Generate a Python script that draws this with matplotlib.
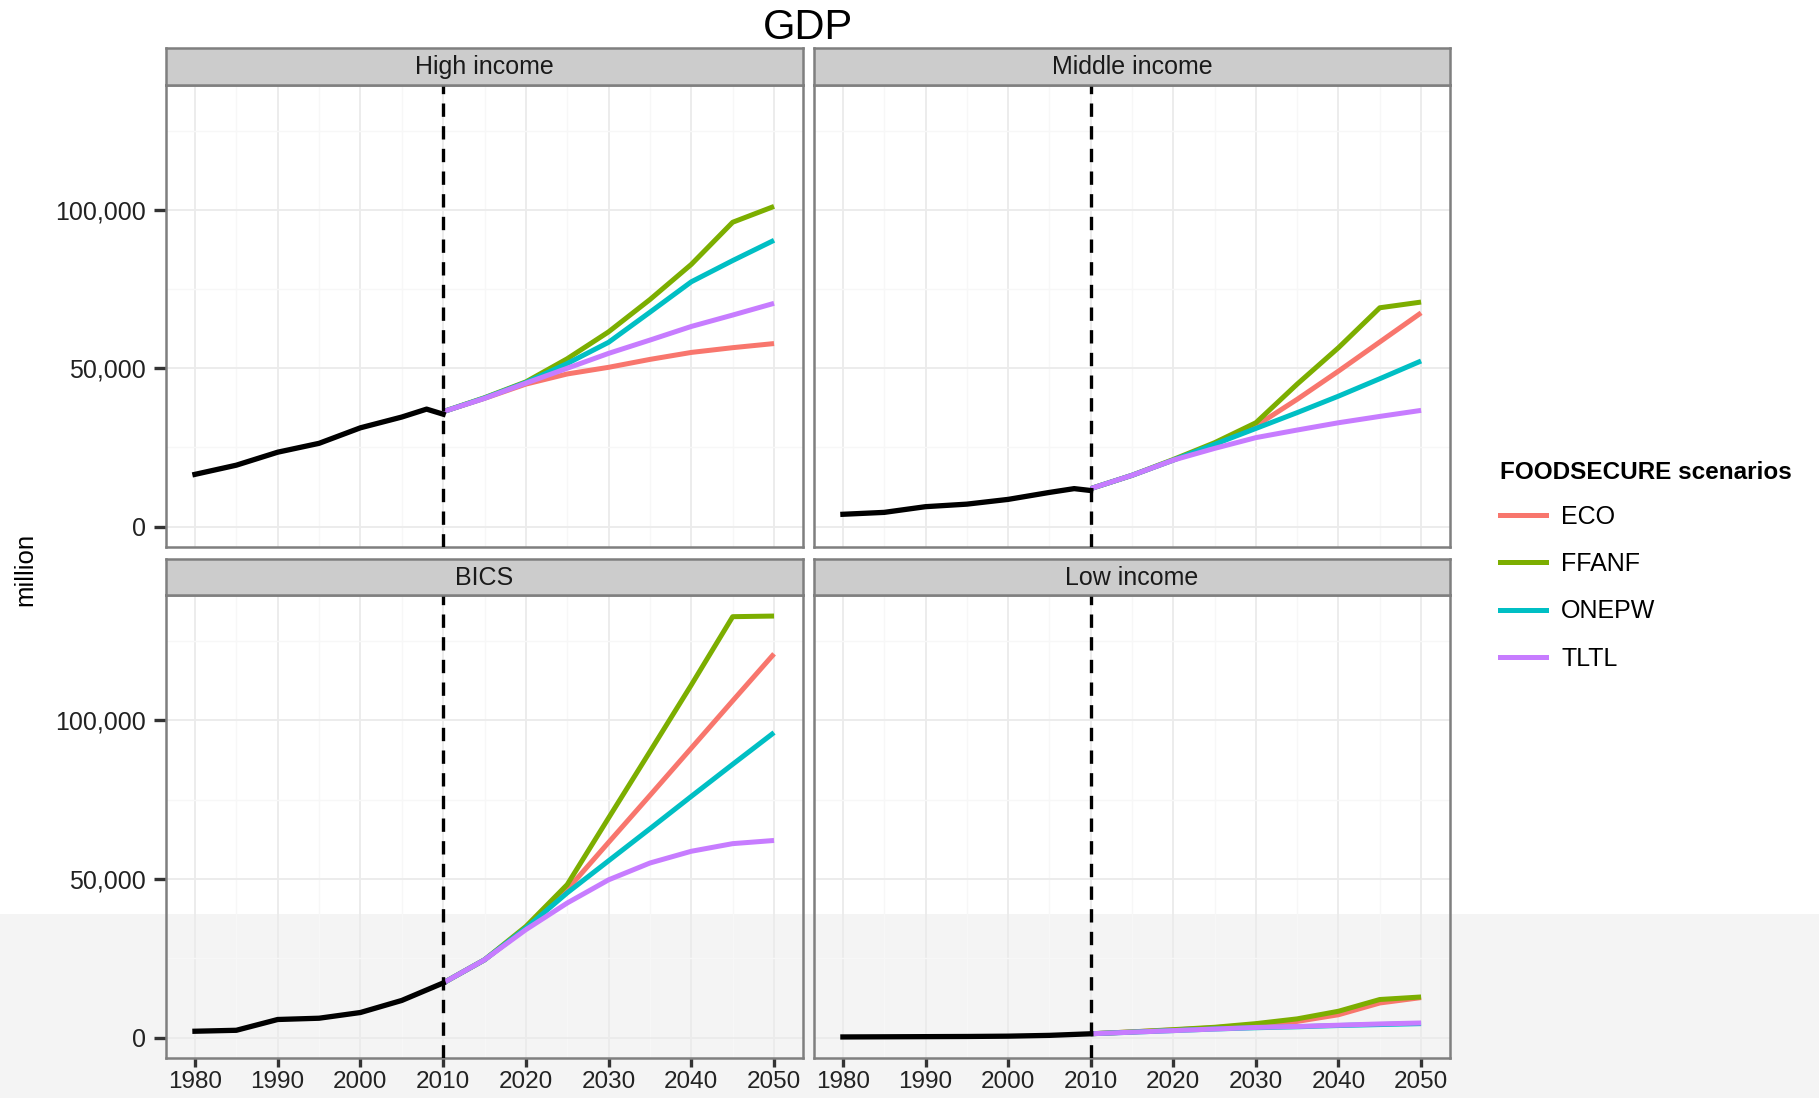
import matplotlib
matplotlib.use("Agg")
from matplotlib import pyplot as plt
from matplotlib.lines import Line2D
from matplotlib.patches import Rectangle
from matplotlib.ticker import FuncFormatter, MultipleLocator

plt.rcParams['font.family'] = ['Liberation Sans', 'DejaVu Sans']

# Historical years (black line) and scenario years (coloured lines)
hist_years = [1980, 1985, 1990, 1995, 2000, 2005, 2008, 2010]
scen_years = [2010, 2015, 2020, 2025, 2030, 2035, 2040, 2045, 2050]

scenarios = ["ECO", "FFANF", "ONEPW", "TLTL"]
colors = ["#F8766D", "#7CAE00", "#00BFC4", "#C77CFF"]

# High income
high_hist = [16500, 19400, 23500, 26300, 31200, 34600, 37100, 35500]
high_eco = [36300, 40500, 45000, 48200, 50300, 52800, 55000, 56500, 57800]
high_ffanf = [36300, 40700, 45700, 53000, 61500, 71700, 82800, 96100, 101100]
high_onepw = [36300, 40600, 45500, 51500, 58200, 67700, 77300, 84000, 90400]
high_tltl = [36300, 40500, 45300, 50000, 54700, 58900, 63200, 66800, 70500]

# Middle income
mid_hist = [3900, 4500, 6300, 7100, 8600, 10800, 12000, 11400]
mid_eco = [12000, 16200, 21000, 26000, 31800, 40200, 49100, 58300, 67500]
mid_ffanf = [12000, 16200, 21200, 26500, 32800, 45000, 56500, 69100, 70900]
mid_onepw = [12000, 16200, 21000, 26000, 31000, 36000, 41200, 46700, 52300]
mid_tltl = [12000, 16200, 21000, 24700, 28100, 30500, 32800, 34800, 36700]

# BICS
bics_hist = [2000, 2300, 5700, 6100, 7900, 11700, 15000, 17200]
bics_eco = [17200, 24500, 34500, 46600, 61500, 76300, 91200, 106100, 120900]
bics_ffanf = [17200, 24500, 35000, 48200, 69200, 90100, 111100, 132600, 132800]
bics_onepw = [17200, 24500, 34500, 45600, 55700, 65800, 76000, 86100, 96100]
bics_tltl = [17200, 24500, 34000, 42400, 49700, 55000, 58700, 61100, 62100]

# Low income
low_hist = [200, 250, 300, 350, 450, 700, 1000, 1200]
low_eco = [1200, 1800, 2400, 3100, 4100, 5100, 7200, 10900, 12600]
low_ffanf = [1200, 1800, 2500, 3250, 4400, 5900, 8300, 12000, 12800]
low_onepw = [1200, 1700, 2200, 2700, 3100, 3400, 3800, 4100, 4400]
low_tltl = [1200, 1700, 2200, 2700, 3200, 3500, 3900, 4300, 4600]

panels = [
    ("High income", high_hist, [high_eco, high_ffanf, high_onepw, high_tltl]),
    ("Middle income", mid_hist, [mid_eco, mid_ffanf, mid_onepw, mid_tltl]),
    ("BICS", bics_hist, [bics_eco, bics_ffanf, bics_onepw, bics_tltl]),
    ("Low income", low_hist, [low_eco, low_ffanf, low_onepw, low_tltl]),
]

# shared limits with ggplot-like 5% expansion
all_vals = [v for _, h, s in panels for v in h + sum(s, [])]
ymin, ymax = min(all_vals), max(all_vals)
pad = (ymax - ymin) * 0.05
ylim = (ymin - pad, ymax + pad)
xlim = (1980 - 3.5, 2050 + 3.5)

W, H = 1819, 1098
fig = plt.figure(figsize=(W / 100, H / 100), dpi=100)
fig.patch.set_facecolor("white")
# light grey band in the lower part of the scanned page
fig.patches.append(Rectangle((0, 0), 1, 1 - 914 / H, transform=fig.transFigure,
                             facecolor="#f4f4f4", edgecolor="none", zorder=-10))

col_x = [(166, 803), (814, 1450)]
row_y = [(48, 85, 547), (559, 595, 1058)]
fs = 18

for i, (name, hist, scen) in enumerate(panels):
    r, c = divmod(i, 2)
    x0, x1 = col_x[c]
    s0, p0, p1 = row_y[r]
    ax = fig.add_axes([x0 / W, 1 - p1 / H, (x1 - x0) / W, (p1 - p0) / H])
    ax.set_facecolor("none")

    for vals, col in zip(scen, colors):
        ax.plot(scen_years, vals, color=col, lw=3.6, solid_capstyle="butt", zorder=3)
    ax.plot(hist_years, hist, color="black", lw=3.8, zorder=3)
    ax.axvline(2010, color="black", lw=2.4, ls=(0, (4, 2.8)), zorder=4)

    ax.set_xlim(xlim)
    ax.set_ylim(ylim)
    ax.xaxis.set_major_locator(MultipleLocator(10))
    ax.xaxis.set_minor_locator(MultipleLocator(5))
    ax.yaxis.set_major_locator(MultipleLocator(50000))
    ax.yaxis.set_minor_locator(MultipleLocator(25000))
    ax.yaxis.set_major_formatter(FuncFormatter(lambda v, p: f"{int(v):,}"))
    ax.grid(which="major", color="#ebebeb", lw=1.3, zorder=0)
    ax.grid(which="minor", color="#f7f7f7", lw=1.0, zorder=0)
    ax.set_axisbelow(True)
    ax.tick_params(which="major", length=8.5, width=2.4, color="#333333",
                   labelsize=fs, labelcolor="#222222", pad=6)
    # x labels sit right at the bottom edge, keep them tight
    ax.tick_params(axis="x", which="major", length=6.5, pad=2.5, labelsize=17.5)
    ax.tick_params(which="minor", length=0)
    if c == 1:
        ax.tick_params(axis="y", which="both", left=False, labelleft=False)
    if r == 0:
        ax.tick_params(axis="x", which="both", bottom=False, labelbottom=False)
    for sp in ax.spines.values():
        sp.set_color("#7f7f7f")
        sp.set_linewidth(1.8)

    # facet strip
    sax = fig.add_axes([x0 / W, 1 - p0 / H, (x1 - x0) / W, (p0 - s0) / H])
    sax.set_facecolor("#cccccc")
    sax.set_xticks([])
    sax.set_yticks([])
    for sp in sax.spines.values():
        sp.set_color("#7f7f7f")
        sp.set_linewidth(1.8)
    sax.text(0.5, 0.48, name, ha="center", va="center", fontsize=fs,
             color="#1a1a1a", transform=sax.transAxes)

fig.text(808 / W, 1 - 28 / H, "GDP", ha="center", va="center", fontsize=30)
fig.text(25 / W, 1 - 569 / H, "million", ha="center", va="center",
         rotation=90, fontsize=18.5)

handles = [Line2D([], [], color=col, lw=3.6) for col in colors]
leg = fig.legend(handles, scenarios, title="FOODSECURE scenarios",
                 loc="upper left", bbox_to_anchor=(1500 / W, 1 - 461 / H),
                 frameon=False, fontsize=fs, alignment="left",
                 title_fontproperties={"weight": "bold", "size": 17.5},
                 handlelength=1.85, handletextpad=0.6, labelspacing=0.93,
                 borderaxespad=0, borderpad=0)
leg._legend_box.sep = 15

fig.savefig("out.png", dpi=100)
